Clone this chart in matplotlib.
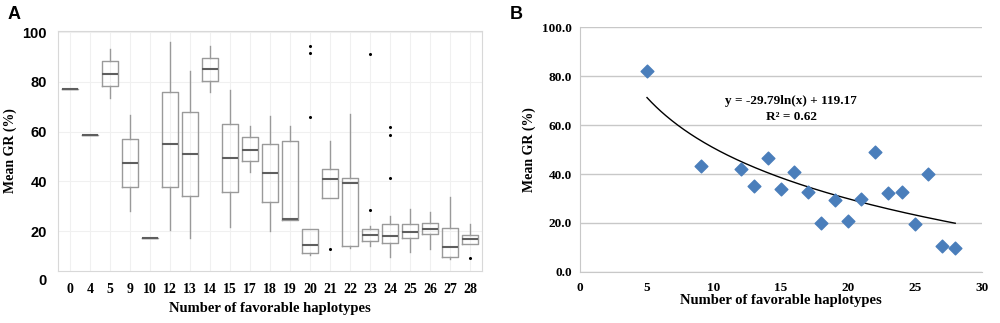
import numpy as np
import matplotlib.pyplot as plt

# Panel A: box plot summary per haplotype count
hap_labels = ["0", "4", "5", "9", "10", "12", "13", "14", "15", "17", "18",
              "19", "20", "21", "22", "23", "24", "25", "26", "27", "28"]
med = [77.1, 58.6, 83.4, 47.5, 17.4, 55.2, 51.0, 85.1, 49.4, 52.7, 43.4,
       24.8, 14.3, 40.8, 39.5, 18.6, 18.1, 19.8, 21.0, 13.7, 17.0]
q1 = [77.1, 58.6, 78.4, 37.9, 17.4, 37.8, 34.1, 80.5, 35.6, 48.3, 31.7,
      24.6, 11.4, 33.3, 14.1, 16.2, 15.4, 17.3, 18.9, 9.8, 14.9]
q3 = [77.1, 58.6, 88.4, 57.2, 17.4, 75.8, 67.9, 89.8, 63.1, 57.7, 54.9,
      56.1, 21.0, 45.1, 41.5, 20.7, 22.9, 22.9, 23.2, 21.3, 18.6]
whis_lo = [77.1, 58.6, 73.4, 28.2, 17.4, 20.5, 17.1, 75.8, 21.8, 43.9, 20.1,
           24.6, 10.4, 33.3, 13.1, 14.1, 9.5, 11.5, 13.0, 8.7, 14.9]
whis_hi = [77.1, 58.6, 93.3, 66.7, 17.4, 96.2, 84.5, 94.5, 76.7, 62.4, 66.5,
           62.4, 21.0, 56.1, 67.1, 22.0, 26.1, 28.9, 27.8, 33.9, 22.8]
outliers = {"20": [94.5, 91.6, 65.9], "21": [12.9], "23": [91.4, 28.6],
            "24": [62.1, 58.5, 41.2], "28": [9.4]}

# Panel B: mean GR per haplotype count
hap_n = [5, 9, 12, 13, 14, 15, 16, 17, 18, 19, 20, 21, 22, 23, 24, 25, 26, 27, 28]
mean_gr = [82.0, 43.3, 42.0, 35.2, 46.7, 34.0, 40.7, 32.5, 19.9, 29.4, 20.9,
           29.8, 49.1, 32.2, 32.5, 19.6, 39.9, 10.7, 9.9]
fit_a, fit_b = -29.79, 119.17

fig = plt.figure(figsize=(10, 3.23), dpi=100)
serif = "Liberation Serif"
sans = "Liberation Sans"

# ---- Panel A ----
axA = fig.add_axes([0.058, 0.161, 0.424, 0.743])
stats = []
for i, lab in enumerate(hap_labels):
    stats.append(dict(med=med[i], q1=q1[i], q3=q3[i], whislo=whis_lo[i],
                      whishi=whis_hi[i], fliers=outliers.get(lab, []), label=lab))
axA.bxp(stats, positions=range(len(stats)), widths=0.8, showcaps=False,
        boxprops=dict(color="#9a9a9a", lw=1.0),
        whiskerprops=dict(color="#9a9a9a", lw=1.0),
        medianprops=dict(color="#5e5e5e", lw=1.5),
        flierprops=dict(marker="o", markersize=1.2, markerfacecolor="black",
                        markeredgecolor="black"))
axA.set_xlim(-0.6, len(stats) - 0.4)
axA.set_ylim(4, 100.5)
axA.set_yticks([20, 40, 60, 80, 100])
axA.set_yticklabels(["20", "40", "60", "80", "100"], fontfamily=sans,
                    fontweight="bold", fontsize=10.5)
# the zero label sits below the frame in the original
axA.annotate("0", xy=(0, 0), xycoords=axA.get_yaxis_transform(),
             xytext=(-8, 0), textcoords="offset points", ha="right",
             va="center", fontfamily=sans, fontweight="bold", fontsize=10.5,
             annotation_clip=False)
axA.set_xticks(range(len(stats)))
axA.set_xticklabels(hap_labels, fontfamily=serif, fontweight="bold", fontsize=10)
axA.tick_params(axis="x", length=0, pad=9)
axA.tick_params(axis="y", length=0, pad=8)
axA.grid(True, color="#f0f0f0", lw=0.8)
axA.set_axisbelow(True)
for s in axA.spines.values():
    s.set_color("#d8d8d8")
axA.set_xlabel("Number of favorable haplotypes", fontfamily=serif,
               fontweight="bold", fontsize=10.5, labelpad=4)
axA.set_ylabel("Mean GR (%)", fontfamily=serif, fontweight="bold", fontsize=10)
fig.text(0.008, 0.955, "A", fontfamily=sans, fontweight="bold", fontsize=13,
         va="center")

# ---- Panel B ----
axB = fig.add_axes([0.580, 0.158, 0.402, 0.758])
axB.scatter(hap_n, mean_gr, marker="D", s=42, color="#4a7ebb", zorder=3)
xs = np.linspace(min(hap_n), max(hap_n), 200)
axB.plot(xs, fit_a * np.log(xs) + fit_b, color="black", lw=1.0, zorder=2)
axB.set_xlim(0, 30)
axB.set_ylim(0, 100)
axB.set_xticks([0, 5, 10, 15, 20, 25, 30])
axB.set_yticks([0, 20, 40, 60, 80, 100])
axB.set_yticklabels([f"{v:.1f}" for v in [0, 20, 40, 60, 80, 100]])
for lbl in axB.get_xticklabels() + axB.get_yticklabels():
    lbl.set_fontfamily(serif)
    lbl.set_fontweight("bold")
    lbl.set_fontsize(9.5)
axB.tick_params(axis="x", length=0, pad=7)
axB.tick_params(axis="y", length=0, pad=6)
axB.yaxis.grid(True, color="#c8c8c8", lw=1.0)
axB.set_axisbelow(True)
for side in ["top", "right"]:
    axB.spines[side].set_visible(False)
axB.spines["left"].set_color("#c8c8c8")
axB.spines["bottom"].set_color("#c8c8c8")
axB.text(15.76, 69.8, "y = -29.79ln(x) + 119.17", ha="center", va="center",
         fontfamily=serif, fontweight="bold", fontsize=9.5)
axB.text(15.76, 63.3, "R² = 0.62", ha="center", va="center",
         fontfamily=serif, fontweight="bold", fontsize=9.5)
axB.set_xlabel("Number of favorable haplotypes", fontfamily=serif,
               fontweight="bold", fontsize=10.5, labelpad=0)
axB.set_ylabel("Mean GR (%)", fontfamily=serif, fontweight="bold", fontsize=10)
fig.text(0.51, 0.955, "B", fontfamily=sans, fontweight="bold", fontsize=13,
         va="center")

fig.savefig("out.png", dpi=100)
